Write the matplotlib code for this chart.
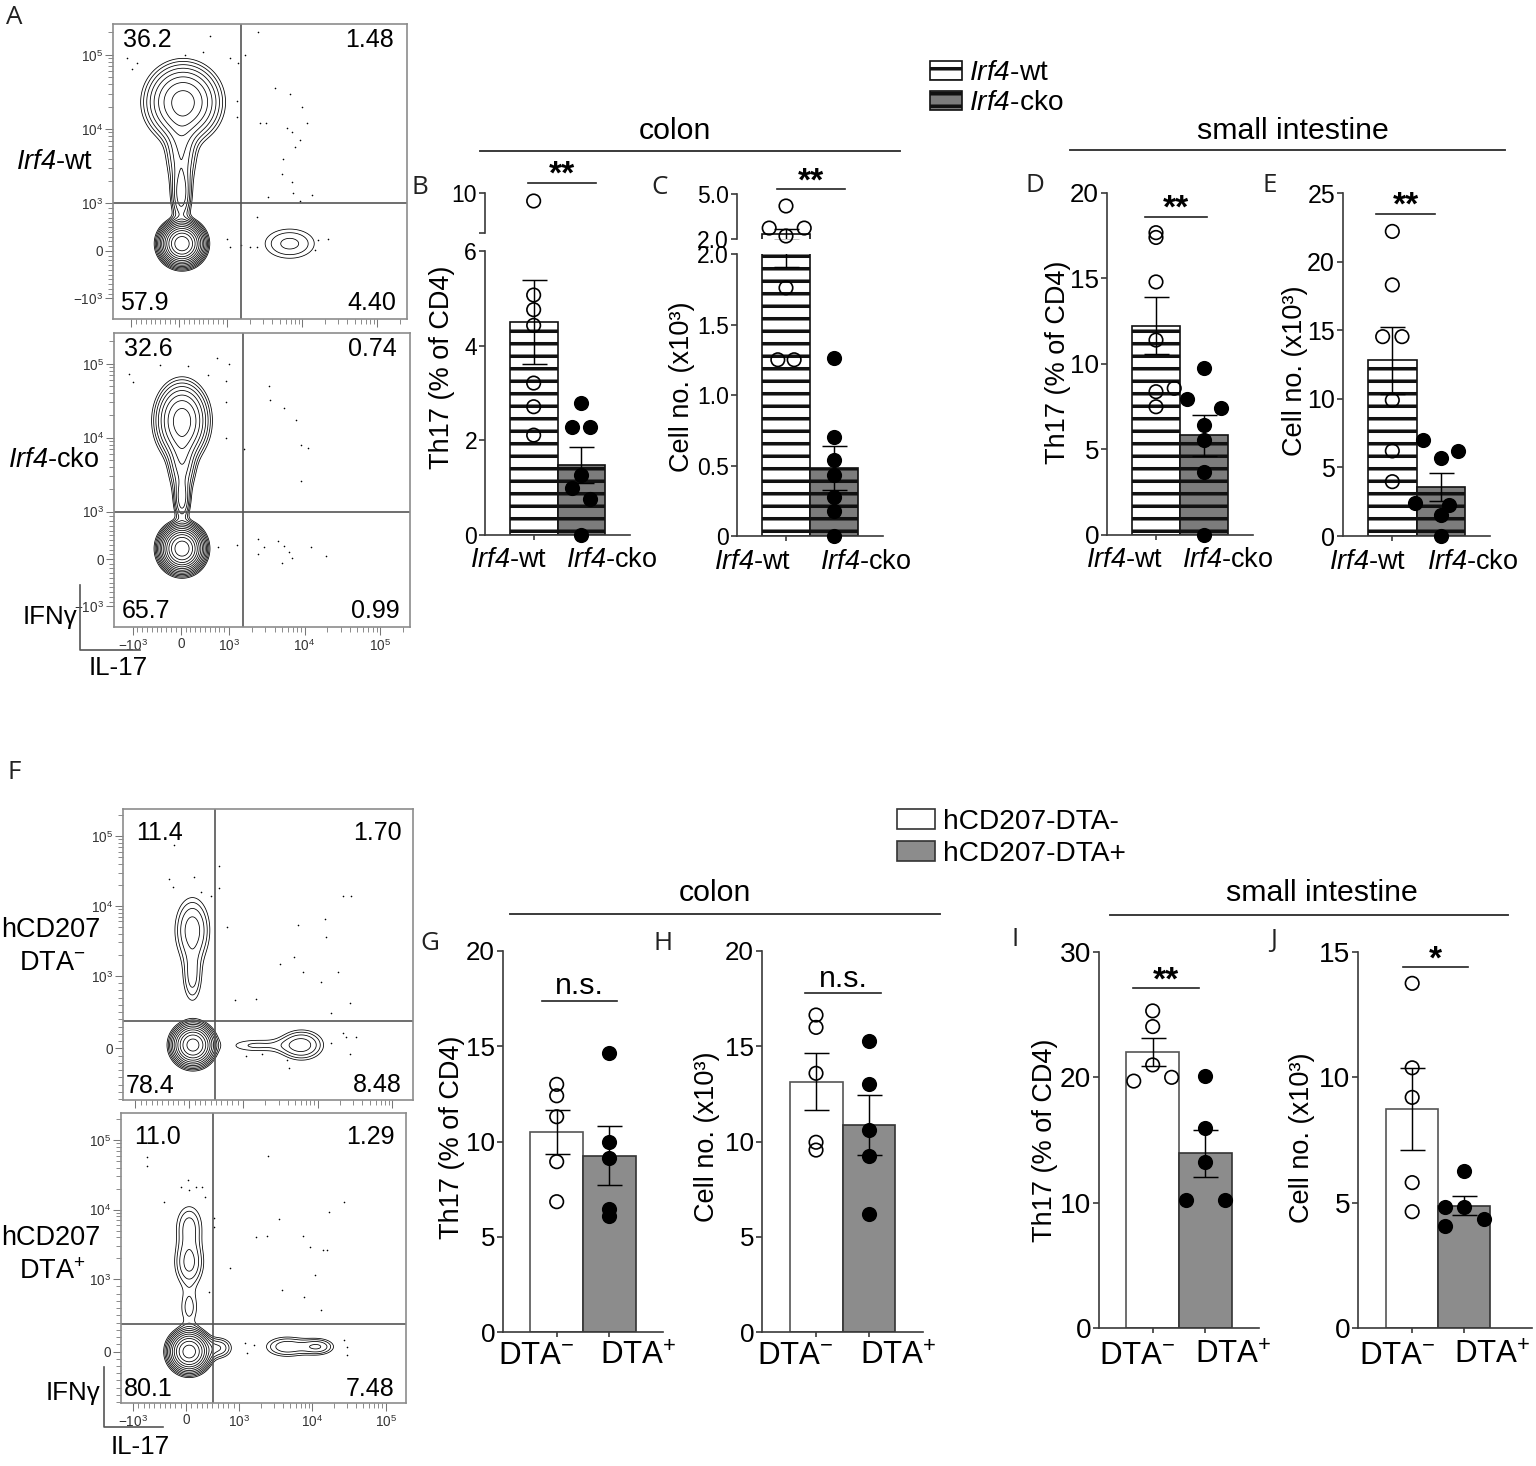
import numpy as np
import matplotlib.pyplot as plt
from matplotlib.patches import Patch
from matplotlib.lines import Line2D

plt.rcParams['font.family'] = ['Liberation Sans', 'DejaVu Sans']
plt.rcParams['mathtext.fontset'] = 'custom'
plt.rcParams['mathtext.rm'] = 'Liberation Sans'
plt.rcParams['mathtext.it'] = 'Liberation Sans:italic'
plt.rcParams['mathtext.sf'] = 'Liberation Sans:italic'
plt.rcParams['mathtext.bf'] = 'Liberation Sans:bold'
plt.rcParams['hatch.linewidth'] = 1.7

# ---------------- bar chart data ----------------
irf_labels = [r'$\mathsf{Irf4}$-wt', r'$\mathsf{Irf4}$-cko']
dta_labels = [r'DTA$^{-}$', r'DTA$^{+}$']

# colon Th17 (% of CD4)
b_wt = [9.2, 5.07, 4.76, 4.43, 3.21, 2.71, 2.11]
b_cko = [2.78, 2.29, 2.29, 1.27, 0.99, 0.75, 0.0]
# colon cell no. (x10^3)
c_wt = [4.2, 2.73, 2.73, 2.2, 1.76, 1.25, 1.25]
c_cko = [1.26, 0.70, 0.54, 0.43, 0.28, 0.18, 0.0]
# small intestine Th17 (% of CD4)
d_wt = [17.68, 17.4, 14.8, 11.4, 8.38, 8.58, 7.5]
d_cko = [9.75, 7.94, 7.41, 6.43, 5.56, 3.7, 0.0]
# small intestine cell no. (x10^3)
e_wt = [22.2, 18.3, 14.53, 14.53, 9.9, 6.2, 3.96]
e_cko = [7.0, 5.7, 6.2, 2.38, 2.26, 1.53, 0.0]

# hCD207-DTA colon / small intestine
g_neg = [13.0, 12.4, 11.3, 8.94, 6.84]
g_pos = [14.66, 9.96, 9.15, 6.44, 6.09]
h_neg = [16.64, 15.99, 13.58, 9.96, 9.55]
h_pos = [15.29, 13.0, 10.6, 9.26, 6.18]
i_neg = [25.3, 24.05, 20.99, 19.7, 20.0]
i_pos = [20.1, 15.99, 13.28, 10.2, 10.2]
j_neg = [13.75, 10.38, 9.2, 5.8, 4.64]
j_pos = [6.26, 4.84, 4.84, 4.08, 4.35]

# horizontal jitter of the dots (fraction of bar width)
b_jit = [[0] * 7, [0, -0.19, 0.19, 0, -0.19, 0.19, 0]]
c_jit = [[0, -0.35, 0.38, 0, 0, -0.17, 0.17], [0] * 7]
d_jit = [[0, 0, 0, 0, 0, 0.38, 0], [0, -0.36, 0.36, 0, 0, 0, 0]]
e_jit = [[0, 0, -0.2, 0.2, 0, 0, 0], [-0.36, 0, 0.36, -0.54, 0.17, 0, 0]]
g_jit = [[0] * 5, [0] * 5]
h_jit = [[0] * 5, [0] * 5]
i_jit = [[0, 0, 0, -0.36, 0.36], [0, 0, 0, -0.37, 0.37]]
j_jit = [[0] * 5, [0, -0.37, 0, -0.37, 0.37]]

# ---------------- flow data ----------------
# populations: IL-17, IFNg centre, spread (display decades), weight
a1_px = [55, 78, 40, 40, 6800]
a1_py = [150, 23000, 5100, 1290, 150]
a1_sx = [0.12, 0.24, 0.12, 0.075, 0.25]
a1_sy = [0.12, 0.25, 0.30, 0.22, 0.15]
a1_w = [0.58, 0.33, 0.05, 0.03, 0.03]
a1_dx = [4300, 6800, 9800, 2700, 3300, 6200, 7200, 11400, 9300, 8000, 5600, 5300, 7200,
         7600, 13300, 3500, 9300, 2600, 1700, 638, 116, 498, 1080, 1400, -1156, -890,
         -995, 1340, 1340, 984, 1080, 1500, 2000, 2500, 16000, 22000, 15000, 2500]
a1_dy = [36000, 30000, 19600, 12000, 12000, 10400, 9200, 12000, 7100, 5800, 3900, 2450,
         1930, 1390, 1280, 1200, 1070, 200000, 100000, 180000, 100000, 110000, 91000,
         78000, 91000, 78000, 64000, 24000, 14500, 256, 83, 131, 83, 83, 222, 256, 14, 706]
a1_quads = ['36.2', '1.48', '57.9', '4.40']

a2_px = [25, 25, 25, 25]
a2_py = [220, 17000, 4600, 1450]
a2_sx = [0.12, 0.17, 0.10, 0.06]
a2_sy = [0.13, 0.25, 0.25, 0.17]
a2_w = [0.62, 0.24, 0.045, 0.018]
a2_dx = [3400, 3500, 5300, 7600, 9100, 11000, 8900, 1600, 753, 1000, -1120, -985, -433,
         153, 567, 945, 945, 933, 2400, 2400, 2900, 4400, 5300, 5000, 6900, 12000, 19000,
         6200, 1280, 773]
a2_dy = [50000, 32000, 25000, 17400, 7900, 7200, 2600, 7000, 120000, 100000, 73000, 56000,
         97000, 93000, 71000, 58000, 30000, 10000, 428, 116, 254, 372, 268, -94, 25, 254,
         67, 150, 289, 254]
a2_quads = ['32.6', '0.74', '65.7', '0.99']

f1_px = [70, 60, 60, 6100, 1500]
f1_py = [46, 4500, 960, 46, 40]
f1_sx = [0.13, 0.15, 0.09, 0.19, 0.30]
f1_sy = [0.14, 0.30, 0.25, 0.14, 0.08]
f1_w = [0.80, 0.19, 0.06, 0.11, 0.045]
f1_dx = [554, 554, 93, -275, -367, -305, 217, 400, 707, 5500, 12400, 12800, 22000, 28000,
         4800, 3100, 6400, 11000, 19000, 861, 1500, 27000, 15000, 22000, 24000, 33000,
         15000, 27000, 1100, 1800, 3900, 4200]
f1_dy = [37000, 18000, 26000, 75000, 24000, 19000, 16000, 14000, 5000, 5300, 6600, 3600,
         14000, 14000, 1830, 1470, 1130, 918, 1130, 666, 675, 629, 482, 207, 161, 161,
         69, -78, -106, -81, -161, -276]
f1_quads = ['11.4', '1.70', '78.4', '8.48']

f2_px = [60, 60, 60, 625, 4500, 12000, 60]
f2_py = [0, 1700, 5800, 50, 67, 67, 600]
f2_sx = [0.13, 0.13, 0.13, 0.12, 0.20, 0.15, 0.10]
f2_sy = [0.14, 0.22, 0.22, 0.10, 0.10, 0.08, 0.20]
f2_w = [0.82, 0.11, 0.08, 0.04, 0.065, 0.04, 0.04]
f2_dx = [-735, -747, 2500, 40, -97, 185, 308, 58, -410, 353, 528, 528, 433, 828, 3500,
         27000, 17000, 1700, 2400, 7600, 9200, 14000, 16000, 11000, 3900, 7700, 13000,
         1200, 1300, 1600, 27000, 30000, 30000]
f2_dy = [57000, 43000, 59000, 27000, 21000, 21000, 21000, 19000, 13000, 15000, 7500, 5700,
         828, 1450, 7300, 13000, 9400, 4100, 4200, 4200, 2900, 2600, 2600, 1160, 851, 759,
         575, 113, -24, 90, 160, 67, -48]
f2_quads = ['11.0', '1.29', '80.1', '7.48']

# ---------------- figure helpers ----------------
W, H, DPI = 1536, 1466, 150
fig = plt.figure(figsize=(W / DPI, H / DPI), dpi=DPI)
AX_COL = '#3a3a3a'


def add_ax(l, t, r, b):
    return fig.add_axes([l / W, 1 - b / H, (r - l) / W, (b - t) / H])


def ftext(x, y, s, **kw):
    fig.text(x / W, 1 - y / H, s, **kw)


def fline(xs, ys, **kw):
    fig.add_artist(Line2D([x / W for x in xs], [1 - y / H for y in ys],
                          transform=fig.transFigure, **kw))


def bar_axes(ax, ylim, yticks, ylabels, fs, bottom=True):
    ax.set_xticks([0, 1])
    ax.set_yticks(yticks)
    ax.set_yticklabels(ylabels)
    ax.set_xlim(-1.02, 2.02)
    ax.set_ylim(*ylim)
    ax.spines[['top', 'right']].set_visible(False)
    for s in ['left', 'bottom']:
        ax.spines[s].set_color(AX_COL)
        ax.spines[s].set_linewidth(0.8)
    ax.tick_params(axis='y', length=2.8, width=0.8, color=AX_COL, labelsize=fs, pad=1)
    ax.tick_params(axis='x', length=2.2, width=0.8, color=AX_COL, labelbottom=False)
    if not bottom:
        ax.spines['bottom'].set_visible(False)
        ax.tick_params(axis='x', length=0)
    ax.patch.set_alpha(0)


def draw_groups(ax, groups, jit, faces, edges, hatch=None, lo=None, hi=None):
    for i, (vals, dx) in enumerate(zip(groups, jit)):
        v = np.asarray(vals, float)
        m = v.mean()
        sem = v.std(ddof=1) / np.sqrt(len(v))
        ax.bar(i, m, width=1, color=faces[i], edgecolor=edges[i], hatch=hatch,
               linewidth=0.8, zorder=1)
        ax.errorbar(i, m, yerr=sem, fmt='none', ecolor='black', elinewidth=0.7,
                    capsize=6, capthick=0.7, zorder=3)
        keep = np.ones(len(v), bool)
        if lo is not None:
            keep &= v > lo
        if hi is not None:
            keep &= v <= hi
        ax.scatter(i + np.asarray(dx, float)[keep], v[keep], s=42, marker='o',
                   facecolors='none' if i == 0 else 'black', edgecolors='black',
                   linewidths=0.8, zorder=4, clip_on=False)


def group_labels(ax, labels, fs, dy, dx=(6, -7.5)):
    ax.annotate(labels[0], xy=(0, 0), xycoords=('data', 'axes fraction'), xytext=(dx[0], dy),
                textcoords='offset points', ha='right', va='top', fontsize=fs)
    ax.annotate(labels[1], xy=(1, 0), xycoords=('data', 'axes fraction'), xytext=(dx[1], dy),
                textcoords='offset points', ha='left', va='top', fontsize=fs)


def sig(ax, x0, x1, y, txt, fs, dy, **kw):
    ax.plot([x0, x1], [y, y], color='#222', lw=0.8, clip_on=False)
    ax.annotate(txt, xy=((x0 + x1) / 2, y), xytext=(0, dy), textcoords='offset points',
                ha='center', va='baseline', fontsize=fs, annotation_clip=False, **kw)


def flow_plot(ax, lsx, lsy, xlim, ylim, pops, dots, gate, quads, qpos, lvl, xlabels):
    ax.set_xscale('symlog', linthresh=1000, linscale=lsx)
    ax.set_yscale('symlog', linthresh=1000, linscale=lsy)
    major = [-1e3, 0, 1e3, 1e4, 1e5]
    labs = ['$-10^{3}$', '0', '$10^{3}$', '$10^{4}$', '$10^{5}$']
    minor = [k * 100 for k in range(-9, 10) if k != 0]
    minor += [k * 10 ** d for d in (3, 4) for k in range(2, 10)] + [2e5]
    for axis in (ax.xaxis, ax.yaxis):
        axis.set_ticks(major)
        axis.set_ticklabels(labs)
        axis.set_ticks(minor, minor=True)
    ax.set_xlim(*xlim)
    ax.set_ylim(*ylim)
    trx = ax.xaxis.get_transform()
    trY = ax.yaxis.get_transform()
    tx = np.linspace(*trx.transform(np.array(xlim, float)), 360)
    ty = np.linspace(*trY.transform(np.array(ylim, float)), 360)
    gx = trx.inverted().transform(tx)
    gy = trY.inverted().transform(ty)
    TX, TY = np.meshgrid(tx / 1000, ty / 1000)
    px, py, sx, sy, w = pops
    cx = trx.transform(np.asarray(px, float)) / 1000
    cy = trY.transform(np.asarray(py, float)) / 1000
    Z = np.zeros_like(TX)
    for k in range(len(px)):
        Z += w[k] / (2 * np.pi * sx[k] * sy[k]) * np.exp(
            -0.5 * (((TX - cx[k]) / sx[k]) ** 2 + ((TY - cy[k]) / sy[k]) ** 2))
    l0, r = lvl
    n = int(np.log(Z.max() / l0) / np.log(r)) + 1
    ax.contour(gx, gy, Z, levels=l0 * r ** np.arange(n), colors='black', linewidths=0.38)
    ax.scatter(dots[0], dots[1], s=0.6, color='black', linewidths=0, zorder=2)
    ax.axvline(gate[0], color='#555', lw=0.8)
    ax.axhline(gate[1], color='#555', lw=0.8)
    ax.set_xlim(*xlim)
    ax.set_ylim(*ylim)
    for s in ax.spines.values():
        s.set_color('#8c8c8c')
        s.set_linewidth(0.8)
    ax.tick_params(which='major', length=4, width=0.5, color='#777', labelsize=6.5,
                   labelcolor='#333', pad=1)
    ax.tick_params(which='minor', length=2.2, width=0.4, color='#777')
    ax.tick_params(axis='x', labelbottom=xlabels)
    for (s, (qx, qy, ha)) in zip(quads, qpos):
        ax.text(qx, qy, s, transform=ax.transAxes, ha=ha, va='center', fontsize=12)


# ---------------- panel A ----------------
qpos_a = [(0.034, 0.945, 'left'), (0.955, 0.945, 'right'),
          (0.025, 0.055, 'left'), (0.965, 0.055, 'right')]
qpos_f = [(0.045, 0.918, 'left'), (0.96, 0.918, 'right'),
          (0.01, 0.048, 'left'), (0.96, 0.05, 'right')]

ax = add_ax(113, 24, 407, 319)
flow_plot(ax, 0.576, 0.576, (-1760, 2.5e5), (-1900, 2.6e5),
          (a1_px, a1_py, a1_sx, a1_sy, a1_w), (a1_dx, a1_dy), (1510, 1000),
          a1_quads, qpos_a, (0.054, 1.45), False)
ax = add_ax(114, 333, 410, 627)
flow_plot(ax, 0.576, 0.576, (-1760, 2.5e5), (-1900, 2.6e5),
          (a2_px, a2_py, a2_sx, a2_sy, a2_w), (a2_dx, a2_dy), (1550, 1000),
          a2_quads, qpos_a, (0.054, 1.45), True)

ftext(55, 162, r'$\mathsf{Irf4}$-wt', ha='center', va='center', fontsize=13)
ftext(54, 460, r'$\mathsf{Irf4}$-cko', ha='center', va='center', fontsize=13)
ftext(77, 617, 'IFNγ', ha='right', va='center', fontsize=12.5)
ftext(118, 668, 'IL-17', ha='center', va='center', fontsize=12.5)
fline([80, 80, 140], [585, 650, 650], color='#555', lw=0.8)

# ---------------- panel F ----------------
ax = add_ax(123, 809, 413, 1100)
flow_plot(ax, 0.648, 0.936, (-1466, 1.9e5), (-711, 2.45e5),
          (f1_px, f1_py, f1_sx, f1_sy, f1_w), (f1_dx, f1_dy), (480, 375),
          f1_quads, qpos_f, (0.2, 1.4), False)
ax = add_ax(121, 1113, 406, 1403)
flow_plot(ax, 0.648, 0.936, (-1466, 1.9e5), (-711, 2.45e5),
          (f2_px, f2_py, f2_sx, f2_sy, f2_w), (f2_dx, f2_dy), (517, 375),
          f2_quads, qpos_f, (0.2, 1.4), True)

ftext(100, 930, 'hCD207', ha='right', va='center', fontsize=13)
ftext(86, 963, r'DTA$^{-}$', ha='right', va='center', fontsize=13)
ftext(100, 1238, 'hCD207', ha='right', va='center', fontsize=13)
ftext(86, 1272, r'DTA$^{+}$', ha='right', va='center', fontsize=13)
ftext(100, 1393, 'IFNγ', ha='right', va='center', fontsize=12.5)
ftext(140, 1447, 'IL-17', ha='center', va='center', fontsize=12.5)
fline([104, 104, 163], [1367, 1427, 1427], color='#555', lw=0.8)

# ---------------- panels B-E ----------------
irf_faces = ['white', '#7c7c7c']
irf_edges = ['#111', '#111']
TFS = 12.5
XFS = 13

# B (broken axis)
ax = add_ax(485, 251, 630, 535)
draw_groups(ax, [b_wt, b_cko], b_jit, irf_faces, irf_edges, '--', hi=6)
bar_axes(ax, (0, 6), [0, 2, 4, 6], ['0', '2', '4', '6'], 11)
group_labels(ax, irf_labels, XFS, -6, (6.5, -7.5))
axu = add_ax(485, 193, 630, 233)
draw_groups(axu, [b_wt, b_cko], b_jit, irf_faces, irf_edges, '--', lo=6)
bar_axes(axu, (6, 10), [6, 10], ['', '10'], 11, bottom=False)
sig(axu, -0.12, 1.3, 11.0, '**', 16, -0.5, fontweight='bold')

# C (broken axis)
ax = add_ax(737, 254, 883, 536)
draw_groups(ax, [c_wt, c_cko], c_jit, irf_faces, irf_edges, '--', hi=2.0)
bar_axes(ax, (0, 2.0), [0, 0.5, 1.0, 1.5, 2.0], ['0', '0.5', '1.0', '1.5', '2.0'], 11)
group_labels(ax, irf_labels, XFS, -6, (2.5, -6.5))
axu = add_ax(737, 194, 883, 239)
draw_groups(axu, [c_wt, c_cko], c_jit, irf_faces, irf_edges, '--', lo=2.0)
bar_axes(axu, (2.0, 5.0), [2.0, 5.0], ['2.0', '5.0'], 11, bottom=False)
sig(axu, -0.19, 1.23, 5.33, '**', 16, -0.5, fontweight='bold')

# D
ax = add_ax(1107, 193, 1253, 535)
draw_groups(ax, [d_wt, d_cko], d_jit, irf_faces, irf_edges, '--')
bar_axes(ax, (0, 20), [0, 5, 10, 15, 20], ['0', '5', '10', '15', '20'], TFS)
group_labels(ax, irf_labels, XFS, -6, (3.5, -10.5))
sig(ax, -0.23, 1.06, 18.6, '**', 16, -0.5, fontweight='bold')

# E
ax = add_ax(1343, 193, 1490, 536)
draw_groups(ax, [e_wt, e_cko], e_jit, irf_faces, irf_edges, '--')
bar_axes(ax, (0, 25), [0, 5, 10, 15, 20, 25], ['0', '5', '10', '15', '20', '25'], 12)
group_labels(ax, irf_labels, XFS, -6, (6.5, -6.5))
sig(ax, -0.34, 0.89, 23.5, '**', 16, -0.5, fontweight='bold')

# ---------------- panels G-J ----------------
dta_faces = ['white', '#8c8c8c']
dta_edges = ['#555', '#333']
DFS = 15

ax = add_ax(503, 951, 663, 1332)
draw_groups(ax, [g_neg, g_pos], g_jit, dta_faces, dta_edges)
bar_axes(ax, (0, 20), [0, 5, 10, 15, 20], ['0', '5', '10', '15', '20'], TFS)
group_labels(ax, dta_labels, DFS, -4.5, (8.5, -4.5))
sig(ax, -0.28, 1.14, 17.4, 'n.s.', 14.5, 3)

ax = add_ax(762, 951, 923, 1332)
draw_groups(ax, [h_neg, h_pos], h_jit, dta_faces, dta_edges)
bar_axes(ax, (0, 20), [0, 5, 10, 15, 20], ['0', '5', '10', '15', '20'], TFS)
group_labels(ax, dta_labels, DFS, -4.5, (8.5, -4.5))
sig(ax, -0.2, 1.22, 17.8, 'n.s.', 14.5, 3)

ax = add_ax(1099, 952, 1259, 1328)
draw_groups(ax, [i_neg, i_pos], i_jit, dta_faces, dta_edges)
bar_axes(ax, (0, 30), [0, 10, 20, 30], ['0', '10', '20', '30'], 13.5)
group_labels(ax, dta_labels, DFS, -6, (11, -5))
sig(ax, -0.37, 0.88, 27.1, '**', 16, -0.5, fontweight='bold')

ax = add_ax(1358, 952, 1532, 1328)
draw_groups(ax, [j_neg, j_pos], j_jit, dta_faces, dta_edges)
bar_axes(ax, (0, 15), [0, 5, 10, 15], ['0', '5', '10', '15'], 13.5)
ax.set_xlim(-1.04, 2.3)
group_labels(ax, dta_labels, DFS, -6, (11, -5))
sig(ax, -0.17, 1.08, 14.4, '*', 16, -0.5, fontweight='bold')

# ---------------- y labels ----------------
for (x, y, s) in [(442, 367, 'Th17 (% of CD4)'), (682, 387, 'Cell no. (x10³)'),
                  (1058, 362, 'Th17 (% of CD4)'), (1295, 371, 'Cell no. (x10³)'),
                  (452, 1137, 'Th17 (% of CD4)'), (707, 1137, 'Cell no. (x10³)'),
                  (1045, 1140, 'Th17 (% of CD4)'), (1302, 1138, 'Cell no. (x10³)')]:
    ftext(x, y, s, rotation=90, ha='center', va='center', fontsize=13)

# ---------------- group titles ----------------
for (x, y, s, x0, x1, yl) in [(675, 131, 'colon', 480, 900, 151),
                              (1293, 131, 'small intestine', 1070, 1505, 150),
                              (715, 893, 'colon', 510, 940, 914),
                              (1322, 893, 'small intestine', 1110, 1508, 915)]:
    ftext(x, y, s, ha='center', va='center', fontsize=14.5)
    fline([x0, x1], [yl, yl], color='#333', lw=0.9)

# ---------------- legends ----------------
h_top = [Patch(facecolor='white', edgecolor='#111', hatch='--', lw=0.8),
         Patch(facecolor='#7c7c7c', edgecolor='#111', hatch='--', lw=0.8)]
fig.legend(h_top, irf_labels, loc='upper left', bbox_to_anchor=(930 / W, 1 - 60 / H),
           frameon=False, fontsize=13.5, handlelength=1.15, handleheight=0.65,
           handletextpad=0.25, labelspacing=0.15, borderpad=0, borderaxespad=0)
h_bot = [Patch(facecolor='white', edgecolor='#333', lw=0.8),
         Patch(facecolor='#8c8c8c', edgecolor='#333', lw=0.8)]
fig.legend(h_bot, ['hCD207-DTA-', 'hCD207-DTA+'], loc='upper left',
           bbox_to_anchor=(897 / W, 1 - 809 / H), frameon=False, fontsize=13.5,
           handlelength=1.35, handleheight=0.7, handletextpad=0.3, labelspacing=0.2,
           borderpad=0, borderaxespad=0)

# ---------------- panel letters ----------------
for (x, y, s) in [(14, 18, 'A'), (420, 188, 'B'), (660, 188, 'C'), (1035, 185, 'D'),
                  (1270, 185, 'E'), (14, 772, 'F'), (430, 943, 'G'), (663, 943, 'H'),
                  (1015, 940, 'I'), (1274, 940, 'J')]:
    ftext(x, y, s, ha='center', va='center', fontsize=12.5, family='Open Sans',
          color='#222')

fig.savefig('out.png', dpi=DPI, facecolor='white')
